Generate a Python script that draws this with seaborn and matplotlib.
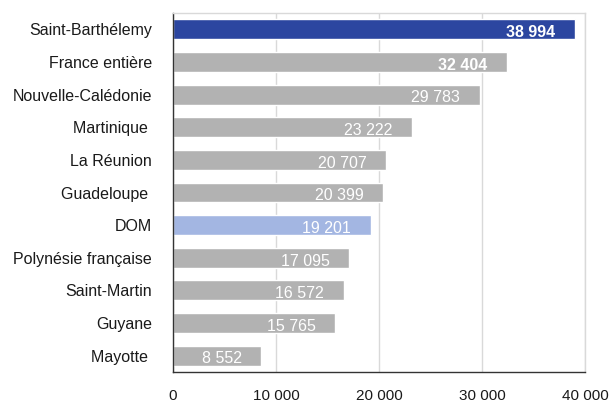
import matplotlib
matplotlib.use("Agg")
import matplotlib.pyplot as plt
import seaborn as sns
import pandas as pd

categories = ["Saint-Barthélemy", "France entière", "Nouvelle-Calédonie", "Martinique ",
              "La Réunion", "Guadeloupe ", "DOM", "Polynésie française", "Saint-Martin",
              "Guyane", "Mayotte "]
values = [38994, 32404, 29783, 23222, 20707, 20399, 19201, 17095, 16572, 15765, 8552]
value_labels = ["38 994", "32 404", "29 783", "23 222", "20 707", "20 399", "19 201",
                "17 095", "16 572", "15 765", "8 552"]
bold_labels = ["Saint-Barthélemy", "France entière"]
x_ticks = [0, 10000, 20000, 30000, 40000]
x_tick_labels = ["0", "10 000", "20 000", "30 000", "40 000"]

sns.set_style("white")
plt.rcParams['font.family'] = ['Liberation Sans', 'DejaVu Sans']
plt.rcParams['text.color'] = '#1A1A1A'
plt.rcParams['xtick.color'] = '#1A1A1A'
plt.rcParams['ytick.color'] = '#1A1A1A'

palette = {c: "#B2B2B2" for c in categories}
palette["Saint-Barthélemy"] = "#2C46A0"
palette["DOM"] = "#A3B6E2"

df = pd.DataFrame({"cat": categories, "val": values})

fig = plt.figure(figsize=(6.09, 4.07), dpi=100)
ax = fig.add_axes([173 / 609, 1 - 372 / 407, 412 / 609, 359 / 407])
sns.barplot(data=df, x="val", y="cat", hue="cat", palette=palette, orient="h",
            width=0.61, ax=ax, legend=False, saturation=1)

ax.set_xlim(0, 40000)
ax.set_ylim(len(categories) - 0.5, -0.5)
ax.set_xticks(x_ticks)
ax.set_xticklabels(x_tick_labels, fontsize=11)
ax.set_xlabel("")
ax.set_ylabel("")
ax.tick_params(axis="y", length=0, labelsize=11.5, pad=15)
ax.tick_params(axis="x", length=4, width=1, direction="out", color="#444444", pad=8)
ax.xaxis.grid(True, color="#D9D9D9", linewidth=1)
ax.set_axisbelow(True)

# tick marks on the category axis at the boundaries between bars
ax.set_yticks([i + 0.5 for i in range(-1, len(categories))], minor=True)
ax.tick_params(axis="y", which="minor", length=5, width=1, color="#444444")

for s in ["left", "bottom"]:
    ax.spines[s].set_color("#333333")
    ax.spines[s].set_linewidth(1)
for s in ["top", "right"]:
    ax.spines[s].set_color("#D9D9D9")
    ax.spines[s].set_linewidth(1)

for i, (c, v, lab) in enumerate(zip(categories, values, value_labels)):
    ax.text(v - 1900, i + 0.1, lab, ha="right", va="center", color="white",
            fontsize=11.5, fontweight="bold" if c in bold_labels else "normal")

fig.savefig("out.png", dpi=100)
